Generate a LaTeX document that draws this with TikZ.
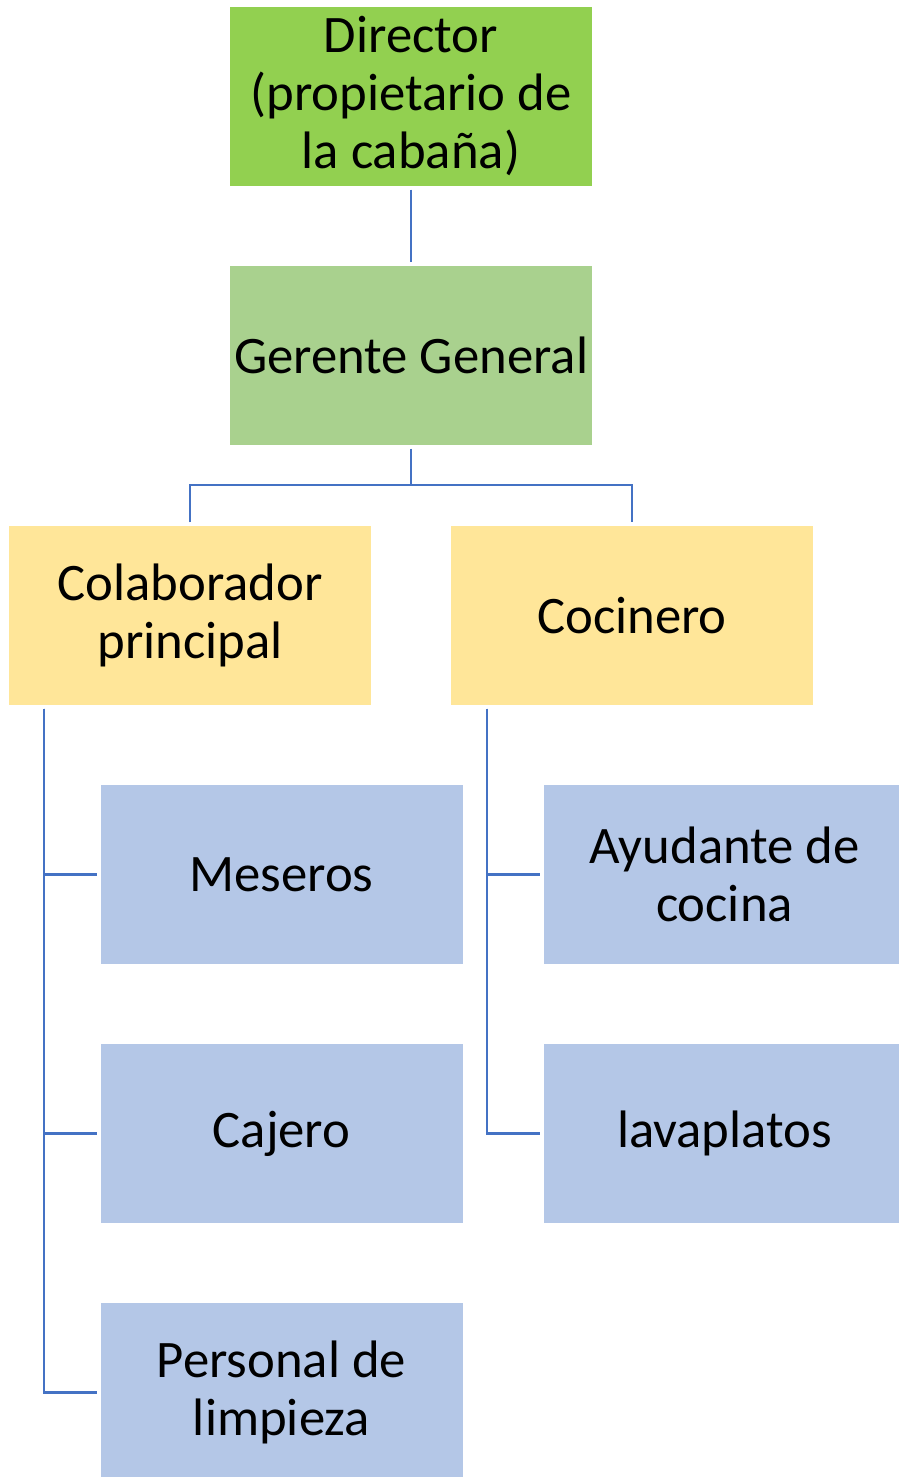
\documentclass[tikz,border=0pt]{standalone}
\usepackage{fontspec}
\setmainfont{Carlito}
\usetikzlibrary{positioning,calc}
\definecolor{dirgreen}{HTML}{92D050}
\definecolor{mgrgreen}{HTML}{A9D18E}
\definecolor{leadyellow}{HTML}{FFE699}
\definecolor{staffblue}{HTML}{B4C7E7}
\definecolor{linkblue}{HTML}{4472C4}
\tikzset{
    %Define style for boxes
    post/.style={
           rectangle,
           minimum width=7.24cm,
           minimum height=3.58cm,
           inner sep=0pt,
           outer sep=0pt,
           align=center,
           font=\fontsize{30}{33}\selectfont,
           text centered},
    top/.style={post, fill=dirgreen},
    manager/.style={post, fill=mgrgreen},
    lead/.style={post, fill=leadyellow},
    staff/.style={post, fill=staffblue},
    % Define connector style
    link/.style={
           draw=linkblue,
           line width=1.2pt,
           shorten <=2pt,
           shorten >=2pt,}
}
\begin{document}
\begin{tikzpicture}[node distance=1.6cm]
\useasboundingbox (0,0) rectangle (17.96,-29.54);
\node[top](director) at (8.22,-1.93){Director\\(propietario de\\la cabaña)};
\node[manager, below=of director](gerente){Gerente General};
\node[lead](colab) at (3.80,-12.31){Colaborador\\principal};
\node[lead, right=of colab](cocinero){Cocinero};
\node[staff, below=of colab, xshift=1.83cm](meseros){Meseros};
\node[staff, below=of meseros](cajero){Cajero};
\node[staff, below=of cajero](limpieza){Personal de\\limpieza};
\node[staff, below=of cocinero, xshift=1.85cm](ayudante){Ayudante de\\cocina};
\node[staff, below=of ayudante](lavaplatos){lavaplatos};
% connectors
\coordinate (bus) at ($(gerente.south)+(0,-0.8)$);
\coordinate (colabtrunk) at ($(colab.south west)+(0.7,0)$);
\coordinate (cocitrunk) at ($(cocinero.south west)+(0.72,0)$);
\draw[link] (director) -- (gerente);
\draw[link, shorten >=0pt] (gerente) -- (bus);
\draw[link] (colab) |- (bus) -| (cocinero);
\draw[link] (colabtrunk) |- (limpieza.west);
\draw[link] (colabtrunk) |- (meseros.west);
\draw[link] (colabtrunk) |- (cajero.west);
\draw[link] (cocitrunk) |- (lavaplatos.west);
\draw[link] (cocitrunk) |- (ayudante.west);
\end{tikzpicture}
\end{document}
